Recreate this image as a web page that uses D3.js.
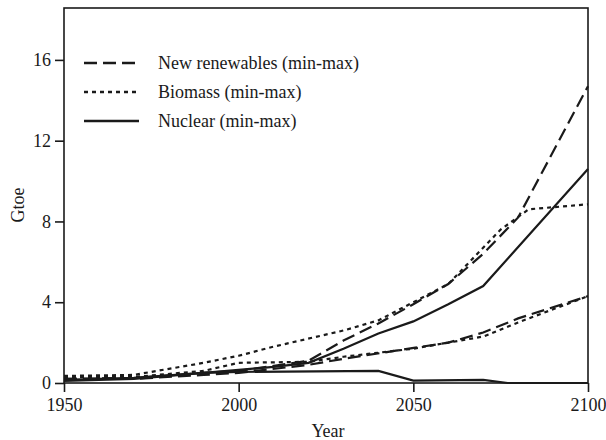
<!DOCTYPE html>
<html>
<head>
<meta charset="utf-8">
<script src="https://cdn.jsdelivr.net/npm/d3@7"></script>
<style>
  body { margin: 0; background: #fff; }
  text { font-family: "Liberation Serif", "Times New Roman", serif; fill: #1a1a1a; }
</style>
</head>
<body>
<div id="container"></div>
<script>
'use strict'

// values (Gtoe)
const renewMaxYears = [1950, 1970, 1990, 2000, 2020, 2030, 2040, 2050, 2060, 2070, 2080, 2100];
const renewMax      = [0.2, 0.25, 0.5, 0.6, 1.1, 2.1, 2.95, 3.9, 4.9, 6.4, 8.2, 14.7];
const renewMinYears = [1950, 1970, 1990, 2000, 2020, 2030, 2045, 2060, 2070, 2080, 2100];
const renewMin      = [0.2, 0.2, 0.4, 0.5, 0.9, 1.2, 1.6, 2.0, 2.5, 3.2, 4.3];

const bioMaxYears = [1950, 1970, 1980, 1990, 2000, 2010, 2030, 2040, 2050, 2060, 2065, 2075, 2083, 2100];
const bioMax      = [0.35, 0.4, 0.7, 1.0, 1.35, 1.8, 2.6, 3.1, 4.0, 4.9, 5.8, 7.6, 8.6, 8.85];
const bioMinYears = [1950, 1970, 1990, 2000, 2020, 2030, 2050, 2070, 2080, 2100];
const bioMin      = [0.3, 0.3, 0.6, 1.0, 1.05, 1.3, 1.7, 2.3, 3.0, 4.3];

const nucMaxYears = [1950, 1970, 1990, 2000, 2010, 2020, 2030, 2040, 2050, 2060, 2070, 2100];
const nucMax      = [0.15, 0.25, 0.5, 0.65, 0.8, 1.0, 1.7, 2.45, 3.05, 3.9, 4.8, 10.6];
const nucMinYears = [1950, 1970, 1990, 2000, 2040, 2050, 2070, 2077, 2100];
const nucMin      = [0.1, 0.2, 0.5, 0.55, 0.6, 0.12, 0.15, 0, 0];

const xTicks = [1950, 2000, 2050, 2100];
const yTicks = [0, 4, 8, 12, 16];
const legendLabels = ["New renewables (min-max)", "Biomass (min-max)", "Nuclear (min-max)"];
const dashes = ["13,6", "4,4", null];

const w = 606, h = 440;
const padLeft = 64, padRight = 588, padTop = 8, padBottom = 383;

const xScale = d3.scaleLinear().domain([1950, 2100]).range([padLeft, padRight]);
const yScale = d3.scaleLinear().domain([0, 18.57]).range([padBottom, padTop]);

const svg = d3.select("#container").append("svg")
  .attr("width", w).attr("height", h);

// frame
svg.append("rect")
  .attr("x", padLeft).attr("y", padTop)
  .attr("width", padRight - padLeft).attr("height", padBottom - padTop)
  .attr("fill", "none").attr("stroke", "#1a1a1a").attr("stroke-width", 1.6);

// axes
const yAxis = d3.axisLeft(yScale).tickValues(yTicks).tickSize(9).tickPadding(4);
const gy = svg.append("g").attr("transform", "translate(" + padLeft + ",0)").call(yAxis);
const xAxis = d3.axisBottom(xScale).tickValues(xTicks).tickFormat(d3.format("d")).tickSize(9).tickPadding(6);
const gx = svg.append("g").attr("transform", "translate(0," + padBottom + ")").call(xAxis);
[gx, gy].forEach(g => {
  g.select(".domain").remove();
  g.selectAll(".tick line").attr("stroke", "#1a1a1a").attr("stroke-width", 1.6);
  g.selectAll(".tick text").style("font-size", "18px")
    .style("font-family", '"Liberation Serif", serif').attr("fill", "#1a1a1a");
});

svg.append("text").text("Year")
  .attr("x", 328).attr("y", 437)
  .attr("text-anchor", "middle").style("font-size", "18px");
svg.append("text").text("Gtoe")
  .attr("transform", "translate(24,205) rotate(-90)")
  .attr("text-anchor", "middle").style("font-size", "18px");

// series
const line = d3.line().x(d => xScale(d[0])).y(d => yScale(d[1]));
const series = [
  [renewMaxYears, renewMax, 0], [renewMinYears, renewMin, 0],
  [bioMaxYears, bioMax, 1], [bioMinYears, bioMin, 1],
  [nucMaxYears, nucMax, 2], [nucMinYears, nucMin, 2]
];
series.forEach(s => {
  svg.append("path")
    .datum(d3.zip(s[0], s[1]))
    .attr("d", line)
    .attr("fill", "none")
    .attr("stroke", "#1a1a1a")
    .attr("stroke-width", 2.2)
    .attr("stroke-dasharray", dashes[s[2]]);
});

// legend
legendLabels.forEach((lab, i) => {
  const ly = 63 + i * 29;
  svg.append("line")
    .attr("x1", 84).attr("x2", 139).attr("y1", ly).attr("y2", ly)
    .attr("stroke", "#1a1a1a").attr("stroke-width", 2.4)
    .attr("stroke-dasharray", dashes[i]);
  svg.append("text").text(lab)
    .attr("x", 158).attr("y", ly + 6)
    .style("font-size", "18px");
});
</script>
</body>
</html>
